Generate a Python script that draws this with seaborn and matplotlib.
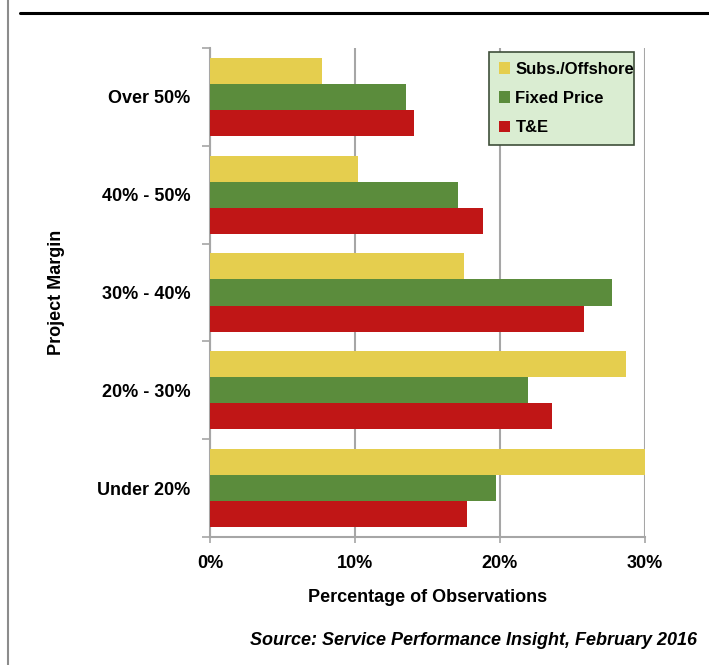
import pandas as pd
import matplotlib.pyplot as plt
import matplotlib.ticker as ticker
import seaborn as sns

sns.set_theme(style="white")
plt.rcParams['font.family'] = ['Liberation Sans Narrow', 'Liberation Sans', 'DejaVu Sans']
plt.rcParams['text.color'] = 'black'
plt.rcParams['axes.labelcolor'] = 'black'
plt.rcParams['xtick.color'] = 'black'
plt.rcParams['ytick.color'] = 'black'

margins = ["Over 50%", "40% - 50%", "30% - 40%", "20% - 30%", "Under 20%"]
series = ["Subs./Offshore", "Fixed Price", "T&E"]
subs = [7.7, 10.2, 17.5, 28.7, 30.0]
fixed = [13.5, 17.1, 27.7, 21.9, 19.7]
te = [14.1, 18.8, 25.8, 23.6, 17.7]
colors = ["#E5CE4E", "#5B8C3C", "#C01616"]

df = pd.DataFrame({
    "margin": margins * 3,
    "series": [series[0]] * 5 + [series[1]] * 5 + [series[2]] * 5,
    "pct": subs + fixed + te,
})

fig = plt.figure(figsize=(7.09, 6.65), dpi=100)
ax = fig.add_axes([0.2962, 0.1925, 0.6135, 0.7353])

sns.barplot(data=df, y="margin", x="pct", hue="series", order=margins,
            hue_order=series, palette=colors, orient="h", width=0.8,
            saturation=1, ax=ax, zorder=3, edgecolor="none")

ax.set_xlim(0, 30)
ax.set_ylim(4.5, -0.5)
ax.xaxis.set_major_locator(ticker.MultipleLocator(10))
ax.xaxis.set_major_formatter(ticker.FuncFormatter(lambda x, pos: "%d%%" % x))
ax.yaxis.set_minor_locator(ticker.FixedLocator([-0.5, 0.5, 1.5, 2.5, 3.5, 4.5]))
ax.tick_params(axis="y", which="major", length=0, pad=14, labelsize=13)
ax.tick_params(axis="y", which="minor", left=True, length=6, width=1.2, color="#A6A6A6")
ax.tick_params(axis="x", which="major", bottom=True, length=4, width=1.2,
               color="#A6A6A6", labelsize=13, pad=9)
for lab in ax.get_xticklabels() + ax.get_yticklabels():
    lab.set_fontweight("bold")
    lab.set_color("black")

ax.grid(axis="x", color="#A6A6A6", linewidth=1.5, zorder=0)
for side in ["top", "right"]:
    ax.spines[side].set_visible(False)
for side in ["left", "bottom"]:
    ax.spines[side].set_color("#A6A6A6")
    ax.spines[side].set_linewidth(1.5)

ax.set_xlabel("Percentage of Observations", fontsize=13, fontweight="bold",
              color="black", labelpad=12)
ax.set_ylabel("Project Margin", fontsize=13, fontweight="bold", color="black",
              labelpad=23)

leg = ax.legend(loc="upper left", bbox_to_anchor=(0.641, 0.992, 0.334, 0.0),
                frameon=True, fancybox=False, fontsize=12, handlelength=0.7,
                handleheight=0.7, handletextpad=0.3, labelspacing=0.85,
                borderpad=0.6, borderaxespad=0.0, mode="expand")
leg.get_frame().set_facecolor("#DAEDD2")
leg.get_frame().set_edgecolor("#3F4F3A")
leg.get_frame().set_linewidth(1.2)
leg.get_frame().set_alpha(1)
for t in leg.get_texts():
    t.set_fontweight("bold")
    t.set_color("black")

fig.text(0.983, 0.037, "Source: Service Performance Insight, February 2016",
         ha="right", va="center", fontsize=13, fontweight="bold", style="italic",
         color="black")

# framing lines from the report page
fig.add_artist(plt.Line2D([0.011, 0.011], [0, 1], color="#8C8C8C", linewidth=1.5))
fig.add_artist(plt.Line2D([0.028, 1], [0.980, 0.980], color="black", linewidth=2.2))

plt.savefig("out.png", dpi=100)
